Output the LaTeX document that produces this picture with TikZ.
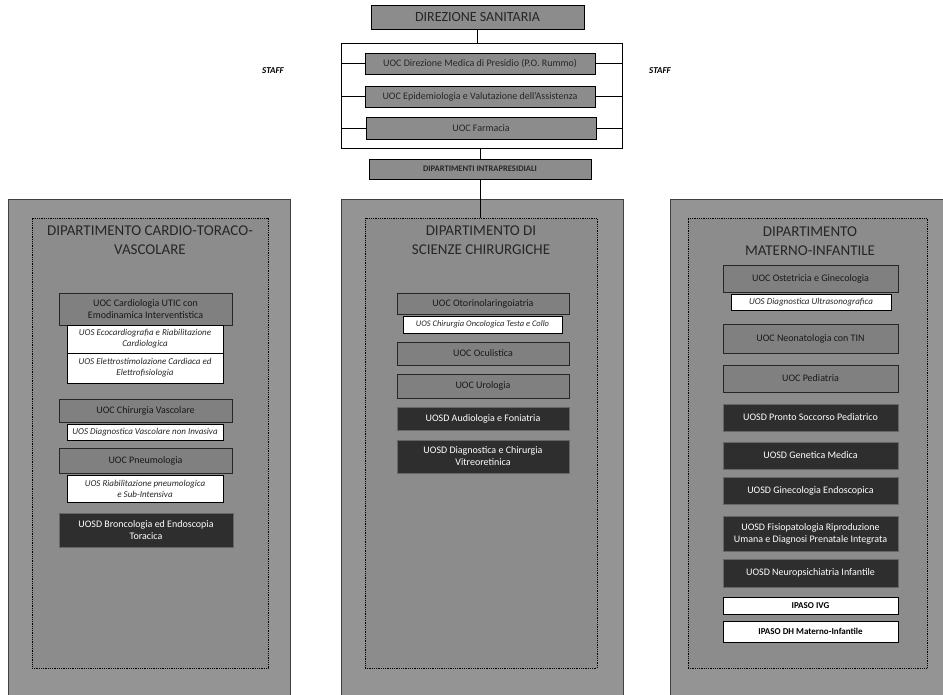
\documentclass[tikz,border=0pt]{standalone}
\usepackage{fontspec}
\setmainfont{Carlito}
\definecolor{panelgray}{gray}{0.58}
\definecolor{innergray}{gray}{0.55}
\definecolor{boxgray}{gray}{0.50}
\definecolor{topgray}{gray}{0.55}
\definecolor{darkbox}{gray}{0.18}
\tikzset{
  topbox/.style={draw=black, line width=0.9pt, fill=topgray, inner sep=0pt, align=center, text=black!85, font=\fontsize{10}{12}\selectfont},
  framebox/.style={draw=black, line width=1pt, fill=none, inner sep=0pt},
  panel/.style={draw=black!75, line width=0.8pt, fill=panelgray, inner sep=0pt},
  innerpanel/.style={draw=black, densely dotted, line width=0.8pt, fill=innergray, inner sep=0pt},
  titletext/.style={align=center, text=black!85, font=\fontsize{15}{19}\selectfont, inner sep=0pt},
  uoc/.style={draw=black!85, line width=0.8pt, fill=boxgray, inner sep=0pt, align=center, text=black!90, font=\fontsize{10}{12}\selectfont},
  uos/.style={draw=black, line width=0.8pt, fill=white, inner sep=0pt, align=center, text=black!85, font=\itshape\fontsize{9}{11}\selectfont},
  uosd/.style={draw=black!60, line width=0.8pt, fill=darkbox, inner sep=0pt, align=center, text=white, font=\fontsize{10}{12}\selectfont},
  ipas/.style={draw=black, line width=0.9pt, fill=white, inner sep=0pt, align=center, text=black, font=\bfseries\fontsize{9}{11}\selectfont},
  staffl/.style={text=black, font=\bfseries\itshape\fontsize{9}{11}\selectfont, inner sep=0pt},
  conn/.style={draw=black, line width=1pt}
}
\begin{document}
\begin{tikzpicture}[x=1pt,y=-1pt]
\useasboundingbox[fill=white] (0,0) rectangle (943,694);

% top structure
\node[topbox, minimum width=213, minimum height=24, font=\fontsize{14}{16}\selectfont] (dir) at (477.5,17) {DIREZIONE SANITARIA};
\node[framebox, minimum width=281, minimum height=105] (staff) at (481.5,95.5) {};
\node[topbox, minimum width=230, minimum height=21] (b1) at (480,63.5) {UOC Direzione Medica di Presidio (P.O. Rummo)};
\node[topbox, minimum width=230, minimum height=21] (b2) at (480,96.5) {UOC Epidemiologia e Valutazione dell'Assistenza};
\node[topbox, minimum width=230, minimum height=22] (b3) at (481,128) {UOC Farmacia};
\node[topbox, minimum width=222, minimum height=20, font=\bfseries\fontsize{8.5}{10}\selectfont] (intra) at (480,169) {DIPARTIMENTI INTRAPRESIDIALI};
\node[staffl] (sl) at (273,71) {STAFF};
\node[staffl] (sr) at (660,71) {STAFF};

\draw[conn] (dir.south) -- (dir.south |- staff.north);
\foreach \b in {b1,b2,b3}{
  \draw[conn] (\b.west) -- (\b.west -| staff.west);
  \draw[conn] (\b.east) -- (\b.east -| staff.east);
}
\draw[conn] (intra.north |- staff.south) -- (intra.north);

% panels
\node[panel, minimum width=282, minimum height=502] (lout) at (149,450) {};
\node[innerpanel, minimum width=236, minimum height=450] (lin) at (150,443) {};
\node[panel, minimum width=282, minimum height=502] (mout) at (482,450) {};
\node[innerpanel, minimum width=232, minimum height=450] (min) at (481,443) {};
\node[panel, minimum width=282, minimum height=502] (rout) at (811,450) {};
\node[innerpanel, minimum width=239, minimum height=450] (rin) at (807.5,443) {};

\draw[conn] (intra.south) -- (intra.south |- min.north);

% left panel
\node[titletext] (lt) at (150,240) {DIPARTIMENTO CARDIO-TORACO-\\VASCOLARE};
\node[uoc, minimum width=173, minimum height=32] (l1) at (145.5,309) {UOC Cardiologia UTIC con\\Emodinamica Interventistica};
\node[uos, minimum width=156, minimum height=28] (l2) at (145,339) {UOS Ecocardiografia e Riabilitazione\\Cardiologica};
\node[uos, minimum width=156, minimum height=30] (l3) at (145,368) {UOS Elettrostimolazione Cardiaca ed\\Elettrofisiologia};
\node[uoc, minimum width=173, minimum height=23] (l4) at (145.5,410.5) {UOC Chirurgia Vascolare};
\node[uos, minimum width=156, minimum height=16] (l5) at (145,432) {UOS Diagnostica Vascolare non Invasiva};
\node[uoc, minimum width=173, minimum height=25] (l6) at (145.5,460.5) {UOC Pneumologia};
\node[uos, minimum width=156, minimum height=27] (l7) at (145,488.5) {UOS Riabilitazione pneumologica\\e Sub-Intensiva};
\node[uosd, minimum width=174, minimum height=34] (l8) at (146,530) {UOSD Broncologia ed Endoscopia\\Toracica};

% middle panel
\node[titletext] (mt) at (481,240) {DIPARTIMENTO DI\\SCIENZE CHIRURGICHE};
\node[uoc, minimum width=172, minimum height=21] (m1) at (483,303.5) {UOC Otorinolaringoiatria};
\node[uos, minimum width=159, minimum height=17, font=\itshape\fontsize{8.5}{10}\selectfont] (m2) at (482.5,324.5) {UOS Chirurgia Oncologica Testa e Collo};
\node[uoc, minimum width=172, minimum height=23] (m3) at (483,353.5) {UOC Oculistica};
\node[uoc, minimum width=172, minimum height=24] (m4) at (483,386) {UOC Urologia};
\node[uosd, minimum width=172, minimum height=23] (m5) at (483,418.5) {UOSD Audiologia e Foniatria};
\node[uosd, minimum width=172, minimum height=33] (m6) at (483,456.5) {UOSD Diagnostica e Chirurgia\\Vitreoretinica};

% right panel
\node[titletext] (rt) at (810,241) {DIPARTIMENTO\\MATERNO-INFANTILE};
\node[uoc, minimum width=175, minimum height=27] (r1) at (810.5,278.5) {UOC Ostetricia e Ginecologia};
\node[uos, minimum width=160, minimum height=16] (r2) at (811,302) {UOS Diagnostica Ultrasonografica};
\node[uoc, minimum width=175, minimum height=29] (r3) at (810.5,338.5) {UOC Neonatologia con TIN};
\node[uoc, minimum width=175, minimum height=27] (r4) at (810.5,378.5) {UOC Pediatria};
\node[uosd, minimum width=175, minimum height=27] (r5) at (810.5,417.5) {UOSD Pronto Soccorso Pediatrico};
\node[uosd, minimum width=175, minimum height=27] (r6) at (810.5,455.5) {UOSD Genetica Medica};
\node[uosd, minimum width=175, minimum height=27] (r7) at (810.5,490.5) {UOSD Ginecologia Endoscopica};
\node[uosd, minimum width=175, minimum height=35] (r8) at (810.5,533.5) {UOSD Fisiopatologia Riproduzione\\Umana e Diagnosi Prenatale Integrata};
\node[uosd, minimum width=175, minimum height=28] (r9) at (810.5,573) {UOSD Neuropsichiatria Infantile};
\node[ipas, minimum width=175, minimum height=17] (r10) at (810.5,605.5) {IPASO IVG};
\node[ipas, minimum width=175, minimum height=21] (r11) at (810.5,631.5) {IPASO DH Materno-Infantile};
\end{tikzpicture}
\end{document}
